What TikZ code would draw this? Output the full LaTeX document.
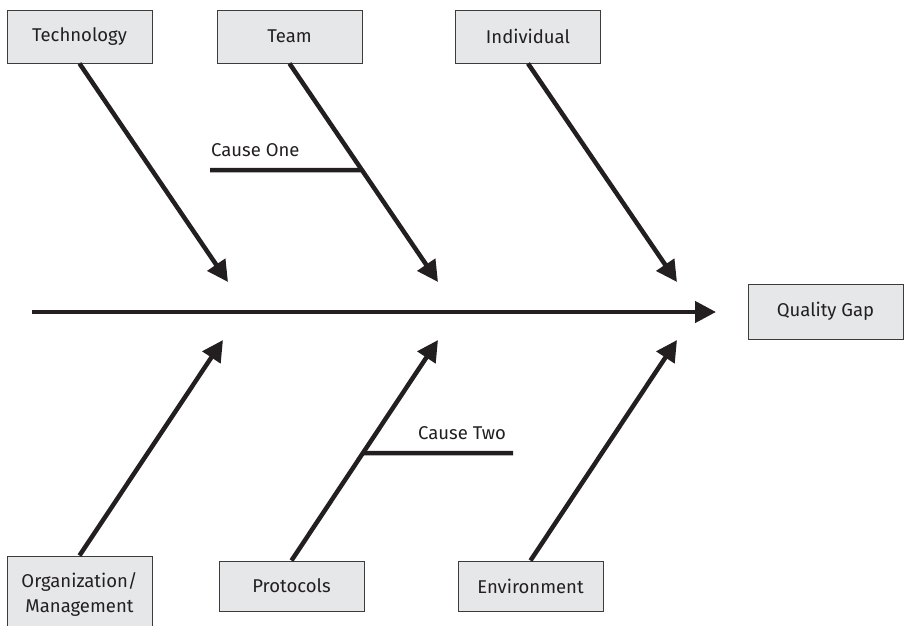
\documentclass[tikz,border=0pt]{standalone}
\usepackage{fontspec}
\setmainfont{Fira Sans}
\usetikzlibrary{arrows.meta,calc}
\definecolor{boxfill}{HTML}{E6E7E9}
\definecolor{boxedge}{HTML}{3C3C3C}
\definecolor{bonecol}{HTML}{231F20}
\definecolor{txt}{HTML}{231F20}
\begin{document}
\begin{tikzpicture}[x=1pt,y=-1pt,
  catbox/.style={draw=boxedge,fill=boxfill,line width=1pt,minimum width=145pt,minimum height=53pt,inner sep=0pt,font=\fontsize{18.5}{25}\selectfont,text=txt,align=center},
  bone/.style={line width=4.5pt,draw=bonecol},
  arr/.style={bone,-{Triangle[length=21pt,width=21pt]}},
  lbl/.style={font=\fontsize{18.5}{22}\selectfont,text=txt,inner sep=0pt,anchor=base west}]
\useasboundingbox (0,0) rectangle (904,625);
% category boxes
\node[catbox] (tech) at (79.5,36.5) {Technology};
\node[catbox] (team) at (289.5,36.5) {Team};
\node[catbox] (indiv) at (528,36.5) {Individual};
\node[catbox,minimum width=155pt,minimum height=55pt] (gap) at (825.5,311.5) {Quality Gap};
\node[catbox,minimum height=76pt] (org) at (79.5,594) {Organization/\\Management};
\node[catbox,minimum height=50pt] (prot) at (291.5,586) {Protocols};
\node[catbox,minimum height=50pt] (env) at (530.5,586) {Environment};
% tips
\coordinate (techtip) at (228,282);
\coordinate (teamtip) at (438,282);
\coordinate (indtip) at (677,282);
\coordinate (orgtip) at (223,340);
\coordinate (prottip) at (438,340);
\coordinate (envtip) at (677,340);
\coordinate (spinestart) at (32,312);
\coordinate (spineend) at (716,312);
% spine
\draw[arr] (spinestart) -- (spineend);
% bones
\draw[arr] (tech.south) -- (techtip);
\draw[arr] (team.south) -- (teamtip);
\draw[arr] (indiv.south) -- (indtip);
\draw[arr] (org.north) -- (orgtip);
\draw[arr] (prot.north) -- (prottip);
\draw[arr] (env.north) -- (envtip);
% causes
\coordinate (c1) at (210,170);
\coordinate (c1b) at (420,170);
\draw[bone] (c1) -- (intersection of team.south--teamtip and c1--c1b);
\node[lbl] (c1t) at (211,156) {Cause One};
\coordinate (c2) at (513,453);
\coordinate (c2b) at (300,453);
\draw[bone] (intersection of prot.north--prottip and c2--c2b) -- (c2);
\node[lbl] (c2t) at (418,439) {Cause Two};
\end{tikzpicture}
\end{document}
